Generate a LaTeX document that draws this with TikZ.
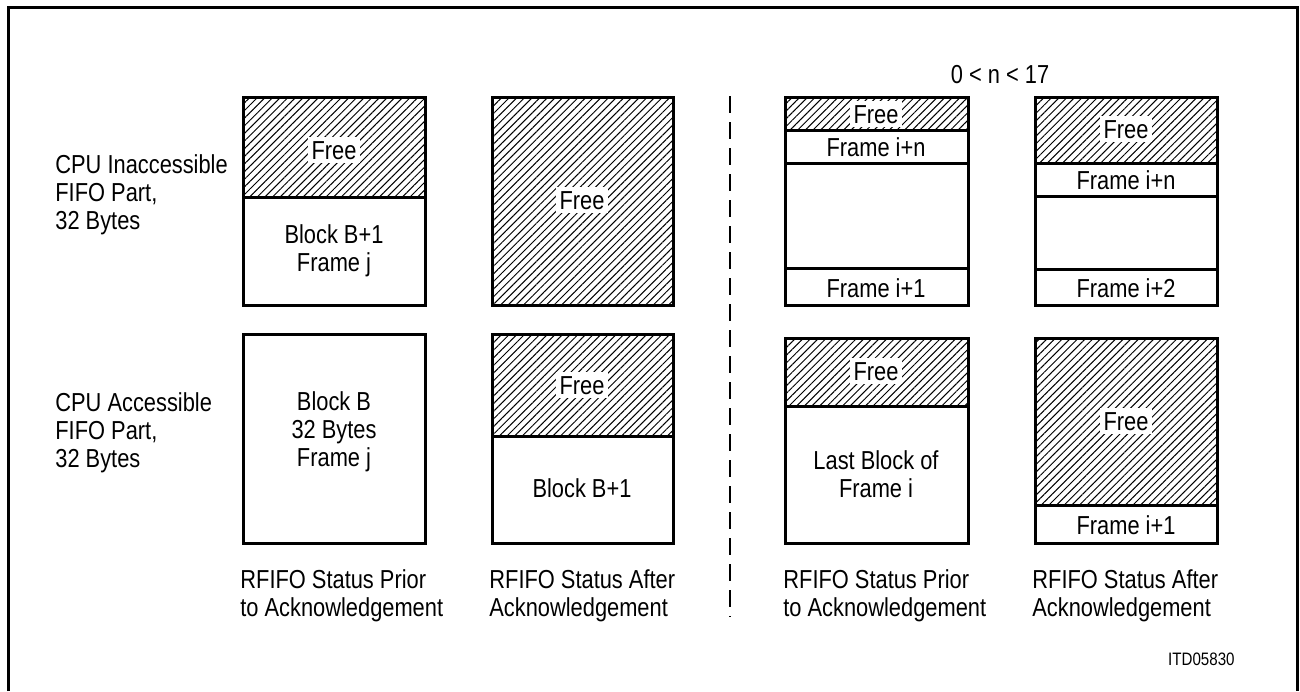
\documentclass[tikz,border=0pt]{standalone}
\usepackage{fontspec}
\setmainfont{Liberation Sans}[FakeStretch=0.84]
\usetikzlibrary{patterns.meta}
\begin{document}
\begin{tikzpicture}[x=0.5pt,y=-0.5pt,
  box/.style={line width=1.5pt},
  frame/.style={line width=1.5pt},
  divider/.style={line width=0.8pt, dash pattern=on 8.5pt off 4.5pt},
  hatch/.style={pattern={Lines[angle=45,distance=2.7pt,line width=0.5pt]}},
  lbl/.style={font=\fontsize{13}{14}\selectfont, align=center, inner sep=0pt},
  one/.style={lbl, text height=9.3pt, text depth=0pt},
  free/.style={one, fill=white, inner sep=2pt},
  side/.style={lbl, align=left, anchor=west},
]
\useasboundingbox (0,0) rectangle (1300,691);
% outer frame (open at bottom)
\draw[frame] (8,691) -- (8,7) -- (1297,7) -- (1297,691);
% divider
\draw[divider] (730,96) -- (730,617);

% ---- hatched areas
\fill[hatch] (243,97) rectangle (425,197);
\fill[hatch] (492,97) rectangle (673,305);
\fill[hatch] (492,334) rectangle (673,436);
\fill[hatch] (785,97) rectangle (968,130);
\fill[hatch] (1035,97) rectangle (1217,163);
\fill[hatch] (785,338) rectangle (968,406);
\fill[hatch] (1035,338) rectangle (1217,505);

% ---- split lines
\draw[box] (243,197) -- (425,197);
\draw[box] (492,436) -- (673,436);
\draw[box] (785,130) -- (968,130);
\draw[box] (785,163) -- (968,163);
\draw[box] (785,268) -- (968,268);
\draw[box] (1035,163) -- (1217,163);
\draw[box] (1035,196) -- (1217,196);
\draw[box] (1035,269) -- (1217,269);
\draw[box] (785,406) -- (968,406);
\draw[box] (1035,505) -- (1217,505);

% ---- box outlines
\draw[box] (243,97) rectangle (425,305);
\draw[box] (492,97) rectangle (673,305);
\draw[box] (785,97) rectangle (968,305);
\draw[box] (1035,97) rectangle (1217,305);
\draw[box] (243,334) rectangle (425,543);
\draw[box] (492,334) rectangle (673,543);
\draw[box] (785,338) rectangle (968,543);
\draw[box] (1035,338) rectangle (1217,543);

% ---- texts in boxes
\node[free] (f11) at (334,150) {Free};
\node[lbl] (b11) at (334,251) {Block B+1\\Frame j};
\node[lbl] (b12) at (334,432) {Block B\\32 Bytes\\Frame j};
\node[free] (f21) at (582,200) {Free};
\node[free] (f22) at (582,385) {Free};
\node[one] (b22) at (582,488) {Block B+1};
\node[free] (f31) at (876,114) {Free};
\node[one] (n31) at (876,147) {Frame i+n};
\node[one] (p31) at (876,288) {Frame i+1};
\node[free] (f41) at (1126,129) {Free};
\node[one] (n41) at (1126,180) {Frame i+n};
\node[one] (p41) at (1126,288) {Frame i+2};
\node[free] (f32) at (876,371) {Free};
\node[lbl] (l32) at (876,474) {Last Block of\\Frame i};
\node[free] (f42) at (1126,421) {Free};
\node[one] (p42) at (1126,525) {Frame i+1};

% ---- side and bottom labels
\node[side] (s1) at (55,195) {CPU Inaccessible\\FIFO Part,\\32 Bytes};
\node[side] (s2) at (55,433) {CPU Accessible\\FIFO Part,\\32 Bytes};
\node[side] (c1) at (240,596) {RFIFO Status Prior\\to Acknowledgement};
\node[side] (c2) at (489,596) {RFIFO Status After\\Acknowledgement};
\node[side] (c3) at (783,596) {RFIFO Status Prior\\to Acknowledgement};
\node[side] (c4) at (1032,596) {RFIFO Status After\\Acknowledgement};
\node[one] (cond) at (1000,74) {0 < n < 17};
\node[lbl, font=\fontsize{9}{11}\selectfont, anchor=east, text height=6.5pt, text depth=0pt] (itd) at (1235,659) {ITD05830};
\end{tikzpicture}
\end{document}
